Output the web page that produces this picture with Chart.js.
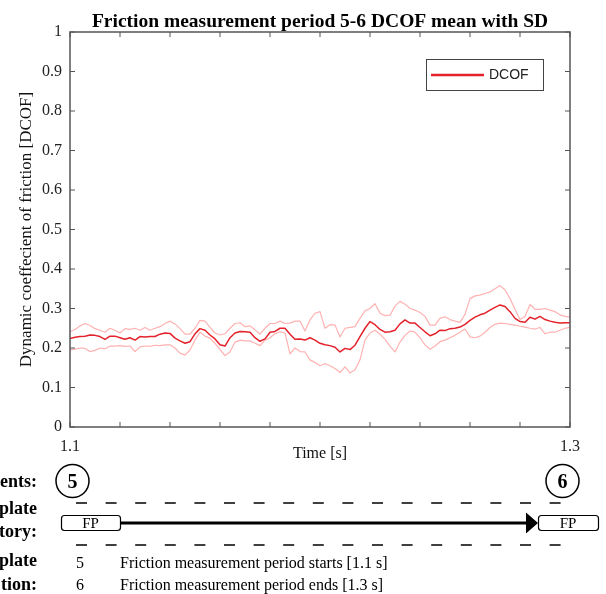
<!DOCTYPE html>
<html>
<head>
<meta charset="utf-8">
<script src="https://cdn.jsdelivr.net/npm/chart.js@4.4.1/dist/chart.umd.min.js"></script>
<style>
  html, body { margin: 0; padding: 0; background: #fff; }
  canvas { display: block; }
</style>
</head>
<body>
<canvas id="chart" width="606" height="594"></canvas>
<script>
/* ── dados: tempo [s] e DCOF média ± SD ── */
var TIME = [
  1.100, 1.102, 1.104, 1.106, 1.108, 1.110, 1.112, 1.114, 1.116, 1.118,
  1.120, 1.122, 1.124, 1.126, 1.128, 1.130, 1.132, 1.134, 1.136, 1.138,
  1.140, 1.142, 1.144, 1.146, 1.148, 1.150, 1.152, 1.154, 1.156, 1.158,
  1.160, 1.162, 1.164, 1.166, 1.168, 1.170, 1.172, 1.174, 1.176, 1.178,
  1.180, 1.182, 1.184, 1.186, 1.188, 1.190, 1.192, 1.194, 1.196, 1.198,
  1.200, 1.202, 1.204, 1.206, 1.208, 1.210, 1.212, 1.214, 1.216, 1.218,
  1.220, 1.222, 1.224, 1.226, 1.228, 1.230, 1.232, 1.234, 1.236, 1.238,
  1.240, 1.242, 1.244, 1.246, 1.248, 1.250, 1.252, 1.254, 1.256, 1.258,
  1.260, 1.262, 1.264, 1.266, 1.268, 1.270, 1.272, 1.274, 1.276, 1.278,
  1.280, 1.282, 1.284, 1.286, 1.288, 1.290, 1.292, 1.294, 1.296, 1.298, 1.300
];
var DCOF_MEAN = [
  .224, .227, .229, .230, .233, .232, .229, .222, .230, .230,
  .226, .222, .226, .220, .229, .228, .229, .229, .235, .238,
  .237, .225, .218, .212, .216, .236, .249, .245, .233, .223,
  .208, .205, .226, .238, .242, .241, .240, .226, .217, .223,
  .240, .242, .250, .250, .235, .222, .223, .220, .226, .220,
  .212, .208, .206, .202, .190, .199, .196, .207, .229, .250,
  .267, .259, .247, .240, .241, .245, .261, .271, .263, .263,
  .252, .241, .231, .236, .245, .244, .249, .250, .253, .260,
  .270, .278, .284, .288, .296, .303, .309, .305, .292, .275,
  .267, .265, .278, .273, .280, .272, .268, .265, .263, .264, .264
];
var DCOF_UPPER = [
  .241, .247, .256, .262, .257, .249, .245, .240, .250, .245,
  .238, .249, .247, .250, .245, .252, .245, .250, .254, .262,
  .268, .261, .249, .235, .235, .250, .270, .268, .252, .238,
  .233, .236, .250, .262, .264, .254, .256, .246, .235, .250,
  .262, .262, .268, .262, .263, .268, .268, .243, .271, .288,
  .292, .250, .259, .258, .228, .250, .252, .254, .275, .294,
  .300, .312, .288, .282, .283, .306, .318, .311, .300, .296,
  .290, .280, .258, .258, .275, .279, .272, .268, .265, .285,
  .325, .332, .334, .338, .342, .350, .358, .347, .325, .298,
  .272, .280, .310, .298, .298, .300, .296, .292, .284, .280, .278
];
var DCOF_LOWER = [
  .195, .197, .200, .199, .191, .194, .200, .198, .205, .205,
  .206, .204, .205, .191, .203, .205, .204, .207, .206, .208,
  .208, .200, .187, .182, .195, .220, .240, .230, .225, .212,
  .196, .181, .190, .215, .220, .218, .218, .212, .206, .220,
  .226, .236, .241, .238, .185, .200, .191, .190, .170, .163,
  .155, .160, .155, .148, .138, .152, .137, .145, .170, .220,
  .238, .245, .235, .222, .205, .190, .215, .232, .243, .240,
  .226, .208, .197, .205, .216, .220, .226, .232, .240, .248,
  .228, .226, .230, .240, .252, .260, .263, .262, .260, .258,
  .255, .253, .250, .248, .252, .236, .240, .240, .245, .250, .252
];
var X_LABELS = [1.1, 1.3];           // só as pontas do período levam rótulo
var SERIES_LABEL = 'DCOF';

(function () {
  'use strict';
  var SERIF = '"Liberation Serif", "Times New Roman", serif';
  var SANS = '"Liberation Sans", Arial, sans-serif';
  var AXIS = '#555';
  var RED = '#e4222b', PINK = '#ffb2b2';

  function pts(arr) { return arr.map(function (v, i) { return { x: TIME[i], y: v }; }); }
  function line(ctx, x1, y1, x2, y2) { ctx.beginPath(); ctx.moveTo(x1, y1); ctx.lineTo(x2, y2); ctx.stroke(); }
  function rrect(ctx, x, y, w, h, r) {
    ctx.beginPath();
    ctx.moveTo(x + r, y); ctx.arcTo(x + w, y, x + w, y + h, r); ctx.arcTo(x + w, y + h, x, y + h, r);
    ctx.arcTo(x, y + h, x, y, r); ctx.arcTo(x, y, x + w, y, r); ctx.closePath();
  }

  /* ── moldura estilo MATLAB: caixa fechada + ticks pra dentro + legenda + título ── */
  var frame = {
    id: 'frame',
    afterDraw: function (chart) {
      var ctx = chart.ctx, a = chart.chartArea, xs = chart.scales.x, ys = chart.scales.y;
      ctx.save();
      ctx.strokeStyle = AXIS; ctx.lineWidth = 1.5;
      ctx.strokeRect(a.left, a.top, a.right - a.left, a.bottom - a.top);
      ctx.lineWidth = 1;
      xs.ticks.forEach(function (t) {
        var p = xs.getPixelForValue(t.value);
        line(ctx, p, a.top, p, a.top + 5); line(ctx, p, a.bottom, p, a.bottom - 5);
      });
      ys.ticks.forEach(function (t) {
        var p = ys.getPixelForValue(t.value);
        line(ctx, a.left, p, a.left + 5, p); line(ctx, a.right, p, a.right - 5, p);
      });

      // título
      ctx.fillStyle = '#000';
      ctx.font = 'bold 19.5px ' + SERIF; ctx.textAlign = 'center'; ctx.textBaseline = 'alphabetic';
      ctx.fillText('Friction measurement period 5-6 DCOF mean with SD', (a.left + a.right) / 2, 27);

      // legenda
      var ds = chart.data.datasets[0];
      ctx.fillStyle = '#fff'; ctx.fillRect(426, 59, 118, 32);
      ctx.strokeStyle = '#444'; ctx.lineWidth = 1; ctx.strokeRect(426.5, 59.5, 117, 31);
      ctx.strokeStyle = ds.borderColor; ctx.lineWidth = 2.5; line(ctx, 431, 75, 484, 75);
      ctx.fillStyle = '#222'; ctx.font = '14px ' + SANS; ctx.textAlign = 'left'; ctx.textBaseline = 'middle';
      ctx.fillText(ds.label, 489, 75);

      diagram(ctx);
      ctx.restore();
    }
  };

  /* ── diagrama de eventos / trajetória abaixo do gráfico ── */
  function diagram(ctx) {
    ctx.fillStyle = '#000'; ctx.strokeStyle = '#000';
    ctx.font = 'bold 18px ' + SERIF; ctx.textAlign = 'right'; ctx.textBaseline = 'alphabetic';
    [['ents:', 487], ['plate', 514], ['tory:', 537], ['plate', 566], ['tion:', 590]].forEach(function (r) {
      ctx.fillText(r[0], 37, r[1]);
    });

    // eventos 5 e 6
    ctx.lineWidth = 1.5; ctx.textAlign = 'center'; ctx.font = 'bold 20px ' + SERIF;
    [[72.5, '5'], [562.5, '6']].forEach(function (e) {
      ctx.beginPath(); ctx.arc(e[0], 481, 16.5, 0, Math.PI * 2); ctx.stroke();
      ctx.fillText(e[1], e[0], 487.5);
    });

    // linhas tracejadas
    ctx.setLineDash([11, 18.6]); ctx.lineWidth = 1.5;
    line(ctx, 76, 503, 579, 503); line(ctx, 76, 545, 579, 545);
    ctx.setLineDash([]);

    // caixas FP + seta
    ctx.lineWidth = 1.2; ctx.font = '15px ' + SERIF;
    [[61, 59], [538, 60]].forEach(function (b) {
      rrect(ctx, b[0] + .5, 515.5, b[1], 15, 3); ctx.stroke();
      ctx.fillText('FP', b[0] + b[1] / 2, 528);
    });
    ctx.lineWidth = 3; line(ctx, 121, 523, 528, 523);
    ctx.beginPath(); ctx.moveTo(526, 512.5); ctx.lineTo(538, 523); ctx.lineTo(526, 533.5); ctx.closePath(); ctx.fill();

    // descrição
    ctx.font = '16px ' + SERIF;
    ctx.fillText('5', 80, 568); ctx.fillText('6', 80, 590);
    ctx.textAlign = 'left';
    ctx.fillText('Friction measurement period starts [1.1 s]', 120, 568);
    ctx.fillText('Friction measurement period ends [1.3 s]', 120, 590);
  }

  new Chart(document.getElementById('chart'), {
    type: 'line',
    data: {
      datasets: [
        { label: SERIES_LABEL, data: pts(DCOF_MEAN), borderColor: RED, borderWidth: 1.5 },
        { label: 'SD+', data: pts(DCOF_UPPER), borderColor: PINK, borderWidth: 1.2 },
        { label: 'SD-', data: pts(DCOF_LOWER), borderColor: PINK, borderWidth: 1.2 },
      ],
    },
    options: {
      responsive: false, animation: false, devicePixelRatio: 1,
      layout: { padding: { left: 0, right: 36, top: 32, bottom: 131 } },
      elements: { point: { radius: 0 }, line: { tension: 0, borderJoinStyle: 'round' } },
      plugins: { legend: { display: false }, tooltip: { enabled: false } },
      scales: {
        x: {
          type: 'linear', min: 1.1, max: 1.3,
          grid: { display: false, drawTicks: false }, border: { display: false },
          ticks: {
            stepSize: 0.02, autoSkip: false, maxRotation: 0, padding: 10, color: '#222',
            font: { family: SERIF, size: 16 },
            callback: function (v) {
              return X_LABELS.some(function (l) { return Math.abs(l - v) < 1e-6; }) ? v.toFixed(1) : '';
            },
          },
          title: { display: true, text: 'Time [s]', color: '#111', padding: 0, font: { family: SERIF, size: 16 } },
          afterFit: function (s) { s.height = 36; },
        },
        y: {
          min: 0, max: 1,
          grid: { display: false, drawTicks: false }, border: { display: false },
          ticks: {
            stepSize: 0.1, padding: 8, color: '#222', font: { family: SERIF, size: 16 },
            callback: function (v) { return (v === 0 || v === 1) ? String(v) : v.toFixed(1); },
          },
          title: {
            display: true, text: 'Dynamic coeffecient of friction [DCOF]', color: '#111',
            padding: { top: 16, bottom: 0 }, font: { family: SERIF, size: 17 },
          },
          afterFit: function (s) { s.width = 70; },
        },
      },
    },
    plugins: [frame],
  });
})();
</script>
</body>
</html>
